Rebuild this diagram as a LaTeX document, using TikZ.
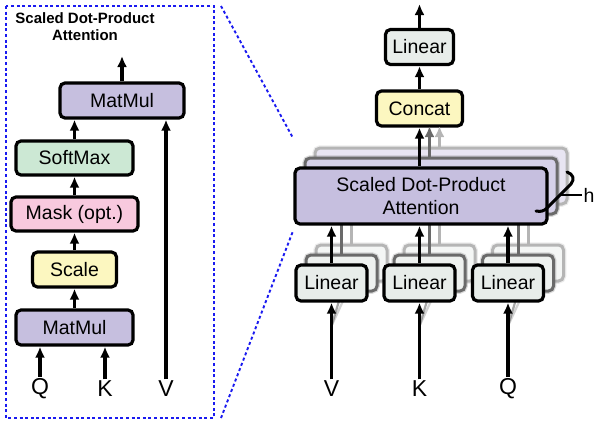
\documentclass[tikz,border=0pt]{standalone}
\usepackage{fontspec}
\setmainfont{Liberation Sans}
\usetikzlibrary{arrows.meta}
\definecolor{lav}{HTML}{C6BFDF}
\definecolor{lavB}{HTML}{D6D1E9}
\definecolor{lavC}{HTML}{E8E5F2}
\definecolor{grn}{HTML}{CCE8D4}
\definecolor{pnk}{HTML}{F8C9DE}
\definecolor{ylw}{HTML}{FCF7C0}
\definecolor{lgr}{HTML}{E8EDEA}
\definecolor{lgrB}{HTML}{EEF1EF}
\definecolor{lgrC}{HTML}{F4F6F5}
\definecolor{shB}{HTML}{6A6A6A}
\definecolor{shC}{HTML}{B5B5B5}
\definecolor{dblue}{HTML}{1A1AF0}
\begin{document}
\begin{tikzpicture}[x=1pt,y=-1pt,
  box/.style={draw=black, line width=3.2pt, rounded corners=5pt, inner sep=0pt,
    font=\fontsize{19.5}{23}\selectfont, align=center},
  shbox/.style={draw=shB, line width=3pt, rounded corners=5pt, inner sep=0pt,
    preaction={draw=shB, line width=5.5pt, opacity=0.25}},
  shboxC/.style={draw=shC, line width=3pt, rounded corners=5pt, inner sep=0pt,
    preaction={draw=shC, line width=5.5pt, opacity=0.25}},
  arr/.style={line width=3.1pt, -{Latex[length=11pt,width=10pt]}},
  arrB/.style={draw=shB, line width=3.1pt, -{Latex[length=11pt,width=10pt]}},
  arrC/.style={draw=shC, line width=3.1pt, -{Latex[length=11pt,width=10pt]}},
  lnB/.style={draw=shB, line width=3pt},
  lnC/.style={draw=shC, line width=3pt},
  lbl/.style={font=\fontsize{23}{26}\selectfont, inner sep=1pt},
  bluedash/.style={draw=dblue, line width=1.9pt, dash pattern=on 3pt off 2.6pt}
]
\useasboundingbox (0,0) rectangle (600,424);

% ---------- left panel ----------
\draw[bluedash] (6,6) rectangle (214,418);
\node[font=\bfseries\fontsize{15}{17.5}\selectfont, align=center] (title) at (85,26.5) {Scaled Dot-Product\\Attention};

\node[box, fill=lav, minimum width=124pt, minimum height=35pt] (mm2) at (122,100.5) {MatMul};
\node[box, fill=grn, minimum width=117pt, minimum height=34pt] (sm) at (74.5,158) {SoftMax};
\node[box, fill=pnk, minimum width=127pt, minimum height=34pt] (mask) at (74.5,214) {Mask (opt.)};
\node[box, fill=ylw, minimum width=84pt, minimum height=35pt] (scale) at (74.5,269.5) {Scale};
\node[box, fill=lav, minimum width=117pt, minimum height=35pt] (mm1) at (74.5,327.5) {MatMul};

\node[lbl] (lq) at (40,388.5) {Q};
\node[lbl] (lk) at (105,388.5) {K};
\node[lbl] (lv) at (166,388.5) {V};

\coordinate (out1) at (122,56);
\draw[arr] (mm2.north) -- (out1);
\draw[arr] (sm.north) -- (sm.north |- mm2.south);
\draw[arr] (mask.north) -- (sm.south);
\draw[arr] (scale.north) -- (mask.south);
\draw[arr] (mm1.north) -- (scale.south);
\draw[arr] (lq.north) -- (lq.north |- mm1.south);
\draw[arr] (lk.north) -- (lk.north |- mm1.south);
\draw[arr] (lv.north) -- (lv.north |- mm2.south);

% ---------- connecting dashed lines ----------
\coordinate (d1a) at (221,6);
\coordinate (d1b) at (293,138);
\coordinate (d2a) at (221,418);
\coordinate (d2b) at (293,231);
\draw[bluedash] (d1a) -- (d1b);
\draw[bluedash] (d2a) -- (d2b);

% ---------- right panel: third (back) layer ----------
\node[shboxC, fill=lavC, minimum width=252pt, minimum height=56pt] (sdpa3) at (441,176) {};
\node[shboxC, fill=lgrC, minimum width=71pt, minimum height=36pt] (lv3) at (351.5,263) {};
\node[shboxC, fill=lgrC, minimum width=71pt, minimum height=36pt] (lk3) at (439.5,263) {};
\node[shboxC, fill=lgrC, minimum width=71pt, minimum height=36pt] (lq3) at (528,263) {};
\draw[lnC] (lv3.north) -- (lv3.north |- sdpa3.south);
\draw[lnC] (lk3.north) -- (lk3.north |- sdpa3.south);
\draw[lnC] (lq3.north) -- (lq3.north |- sdpa3.south);

% second layer
\node[shbox, fill=lavB, minimum width=252pt, minimum height=56pt] (sdpa2) at (431,186) {};
\node[shbox, fill=lgrB, minimum width=71pt, minimum height=36pt] (lv2) at (341.5,273) {};
\node[shbox, fill=lgrB, minimum width=71pt, minimum height=36pt] (lk2) at (429.5,273) {};
\node[shbox, fill=lgrB, minimum width=71pt, minimum height=36pt] (lq2) at (518,273) {};
\draw[lnB] (lv2.north) -- (lv2.north |- sdpa2.south);
\draw[lnB] (lk2.north) -- (lk2.north |- sdpa2.south);
\draw[lnB] (lq2.north) -- (lq2.north |- sdpa2.south);

% inputs to the copies
\node[lbl] (rv) at (331.5,388.5) {V};
\node[lbl] (rk) at (419.5,388.5) {K};
\node[lbl] (rq) at (508,388.5) {Q};
\coordinate (fv) at (331.5,326);
\coordinate (fk) at (419.5,326);
\coordinate (fq) at (508,326);
\foreach \f/\a/\b in {fv/lv2/lv3, fk/lk2/lk3, fq/lq2/lq3}{
  \draw[draw=shC, line width=2.2pt, opacity=0.6] (\f) -- (\b.south);
  \draw[draw=shB, line width=2.2pt, opacity=0.6] (\f) -- (\a.south);
}

% front layer
\node[box, fill=lav, minimum width=252pt, minimum height=56pt] (sdpa) at (421,196) {Scaled Dot-Product\\Attention};
\node[box, fill=lgr, minimum width=71pt, minimum height=36pt] (lv) at (331.5,283) {Linear};
\node[box, fill=lgr, minimum width=71pt, minimum height=36pt] (lk) at (419.5,283) {Linear};
\node[box, fill=lgr, minimum width=71pt, minimum height=36pt] (lq) at (508,283) {Linear};

\node[box, fill=ylw, minimum width=86pt, minimum height=35pt] (concat) at (419.5,108.5) {Concat};
\node[box, fill=lgr, minimum width=68pt, minimum height=35pt] (ltop) at (419.5,47) {Linear};
\coordinate (out2) at (419.5,4);

\draw[arr] (ltop.north) -- (out2);
\draw[arr] (concat.north) -- (ltop.south);
\draw[arrC] (439.5,148) -- (439.5,126);
\draw[arrB] (429.5,158) -- (429.5,126);
\draw[arr] (concat.south |- sdpa.north) -- (concat.south);

\draw[arr] (lv.north) -- (lv.north |- sdpa.south);
\draw[arr] (lk.north) -- (lk.north |- sdpa.south);
\draw[arr] (lq.north) -- (lq.north |- sdpa.south);
\draw[arr] (rv.north) -- (lv.south);
\draw[arr] (rk.north) -- (lk.south);
\draw[arr] (rq.north) -- (lq.south);

% brace and h
\draw[line width=3pt, line cap=round, line join=round]
  (567,172) .. controls (573,174) and (575,179) .. (571,184)
  -- (547,208) .. controls (544,211) and (541,212) .. (536,211);
\node[font=\fontsize{19.5}{22}\selectfont, inner sep=1pt] (hh) at (589,195) {h};
\coordinate (bm) at (559,195);
\draw[line width=2.2pt] (bm) -- (hh.west);
\end{tikzpicture}
\end{document}
